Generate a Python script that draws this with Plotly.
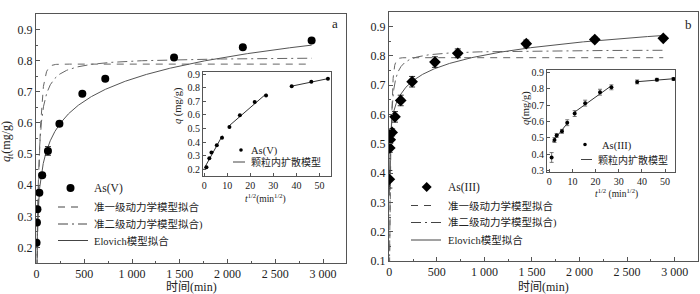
import numpy as np
import plotly.graph_objects as go

# ---------------- data ----------------
time_min = [1, 5, 10, 30, 60, 120, 240, 480, 720, 1440, 2160, 2880]
q_as5 = [0.215, 0.28, 0.323, 0.376, 0.432, 0.51, 0.597, 0.694, 0.742, 0.81, 0.843, 0.865]
err_as5 = [0.004, 0.004, 0.004, 0.004, 0.006, 0.014, 0.006, 0.006, 0.006, 0.006, 0.006, 0.006]
q_as3 = [0.379, 0.486, 0.514, 0.539, 0.592, 0.648, 0.712, 0.779, 0.809, 0.842, 0.856, 0.86]
err_as3 = [0.03, 0.015, 0.012, 0.012, 0.018, 0.018, 0.018, 0.018, 0.015, 0.012, 0.008, 0.008]

# model parameters
pfo_v = dict(qe=0.789, k=0.033)
pso_v = dict(qe=0.813, k=0.068)
elo_v = dict(a=0.0327, b=0.1026)
pfo_iii = dict(qe=0.794, k=0.06)
pso_iii = dict(qe=0.822, k=0.13)
elo_iii = dict(a=0.368, b=0.063)

# intraparticle diffusion segments (point index groups and drawn sqrt(t) span)
seg_idx_v = [[0, 1, 2, 3, 4], [5, 6, 7, 8], [9, 10, 11]]
seg_span_v = [(0.0, 7.9), (10.9, 26.9), (37.9, 53.7)]
seg_idx_iii = [[1, 2, 3, 4], [5, 6, 7, 8], [9, 10, 11]]
seg_span_iii = [(1.4, 7.9), (10.9, 26.9), (37.9, 53.7)]

x_ticks = [0, 500, 1000, 1500, 2000, 2500, 3000]
x_ticktext = ["0", "500", "1 000", "1 500", "2 000", "2 500", "3 000"]

W, H = 700, 294
SERIF = "Liberation Serif, Times New Roman, Noto Sans CJK SC, serif"
LEG = "Liberation Serif, Noto Sans CJK SC, serif"
TXT = "#222222"
LINE = "#555555"
DASH1 = "7px,6px"
DASH2 = "10px,4px,2px,4px"


def px_x(a, b):
    return [a / W, b / W]


def px_y(top, bottom):
    return [1 - bottom / H, 1 - top / H]


def X(p):
    return p / W


def Y(p):
    return 1 - p / H


t_fit = np.unique(np.concatenate([np.linspace(0, 200, 801), np.linspace(200, 2880, 400)]))
t_elo = t_fit[t_fit > 0.3]


def pfo(p, t):
    return p["qe"] * (1 - np.exp(-p["k"] * t))


def pso(p, t):
    return p["qe"] ** 2 * p["k"] * t / (1 + p["qe"] * p["k"] * t)


def elovich(p, t):
    return p["a"] + p["b"] * np.log(t)


fig = go.Figure()


def main_panel(xa, ya, q, err, sym, msize, pf, ps, el):
    fig.add_trace(go.Scatter(x=t_fit, y=pfo(pf, t_fit), mode="lines",
                             line=dict(color="#666", width=1, dash=DASH1), xaxis=xa, yaxis=ya))
    fig.add_trace(go.Scatter(x=t_fit, y=pso(ps, t_fit), mode="lines",
                             line=dict(color="#666", width=1, dash=DASH2), xaxis=xa, yaxis=ya))
    fig.add_trace(go.Scatter(x=t_elo, y=elovich(el, t_elo), mode="lines",
                             line=dict(color=LINE, width=1), xaxis=xa, yaxis=ya))
    fig.add_trace(go.Scatter(x=time_min, y=q, mode="markers",
                             marker=dict(symbol=sym, color="black", size=msize),
                             error_y=dict(type="data", array=err, color="#333", thickness=1, width=3),
                             xaxis=xa, yaxis=ya))


def inset_panel(xa, ya, q, err, idx_groups, spans, show_err):
    sq = np.sqrt(np.array(time_min, dtype=float))
    qa = np.array(q)
    for idx, (s0, s1) in zip(idx_groups, spans):
        m, c = np.polyfit(sq[idx], qa[idx], 1)
        xs = np.array([s0, s1])
        fig.add_trace(go.Scatter(x=xs, y=m * xs + c, mode="lines",
                                 line=dict(color="#333", width=1), xaxis=xa, yaxis=ya))
    fig.add_trace(go.Scatter(x=sq, y=qa, mode="markers",
                             marker=dict(symbol="circle", color="black", size=4),
                             error_y=dict(type="data", array=err, color="#555", thickness=0.8, width=2,
                                          visible=show_err),
                             xaxis=xa, yaxis=ya))


main_panel("x", "y", q_as5, err_as5, "circle", 8, pfo_v, pso_v, elo_v)
main_panel("x2", "y2", q_as3, err_as3, "diamond", 9, pfo_iii, pso_iii, elo_iii)
inset_panel("x3", "y3", q_as5, err_as5, seg_idx_v, seg_span_v, False)
inset_panel("x4", "y4", q_as3, err_as3, seg_idx_iii, seg_span_iii, True)

axis_common = dict(showline=True, linecolor="#555", linewidth=1, mirror=True, showgrid=False,
                   zeroline=False, ticks="inside", ticklen=4, tickcolor="#555", automargin=False,
                   tickfont=dict(family=SERIF, size=12, color=TXT))
inset_common = {**axis_common, "tickfont": dict(family=SERIF, size=10, color=TXT), "ticklen": 3}
minor = dict(ticks="inside", ticklen=2, tickcolor="#555")

# ---------- legends (drawn manually to match the compact original layout) ----------
shapes = []
annotations = []


def leg_line(x0, x1, y, dash):
    shapes.append(dict(type="line", xref="paper", yref="paper", x0=X(x0), x1=X(x1), y0=Y(y), y1=Y(y),
                       line=dict(color="#444", width=1, dash=dash)))


def leg_text(x, y, text, size=10.5):
    annotations.append(dict(text=text, x=X(x), y=Y(y), xref="paper", yref="paper", showarrow=False,
                            xanchor="left", yanchor="middle", font=dict(family=LEG, size=size, color=TXT)))


def leg_circle(cx, cy, r):
    shapes.append(dict(type="circle", xref="paper", yref="paper", x0=X(cx - r), x1=X(cx + r),
                       y0=Y(cy + r), y1=Y(cy - r), fillcolor="black", line=dict(color="black", width=0)))


def leg_diamond(cx, cy, r):
    path = "M {},{} L {},{} L {},{} L {},{} Z".format(X(cx), Y(cy - r), X(cx + r), Y(cy), X(cx), Y(cy + r),
                                                         X(cx - r), Y(cy))
    shapes.append(dict(type="path", xref="paper", yref="paper", path=path, fillcolor="black",
                       line=dict(color="black", width=0)))


# left main
leg_circle(70.5, 188, 4)
leg_text(92, 188, "As(V)", 11.5)
leg_line(58, 80, 207, DASH1)
leg_text(92, 207, "准一级动力学模型拟合")
leg_line(58, 87, 224, DASH2)
leg_text(92, 224, "准二级动力学模型拟合)")
leg_line(58, 88, 240.5, None)
leg_text(92, 240.5, "Elovich模型拟合", 10.5)
# right main
leg_diamond(426.7, 187, 5)
leg_text(446, 187, "As(III)", 11.5)
leg_line(411, 437, 205.5, DASH1)
leg_text(446, 205.5, "准一级动力学模型拟合")
leg_line(411, 441, 222.5, DASH2)
leg_text(446, 222.5, "准二级动力学模型拟合)")
leg_line(411, 441, 240, None)
leg_text(446, 240, "Elovich模型拟合", 10.5)
# left inset
leg_circle(241, 150, 1.8)
leg_text(249, 150.5, "As(V)", 10.5)
leg_line(233, 245, 162, None)
leg_text(249, 162, "颗粒内扩散模型", 10)
# right inset
leg_circle(585, 144.5, 1.8)
leg_text(600, 146.5, "As(III)", 10.5)
leg_line(581, 592, 159.5, None)
leg_text(596, 159.5, "颗粒内扩散模型", 10)


# ---------- axis titles and panel letters ----------
def title_ann(x, y, text, size, angle=0):
    annotations.append(dict(text=text, x=X(x), y=Y(y), xref="paper", yref="paper", showarrow=False,
                            xanchor="center", yanchor="middle", textangle=angle,
                            font=dict(family=SERIF, size=size, color=TXT)))


title_ann(191, 287, "时间(min)", 12)
title_ann(543, 287, "时间(min)", 12)
title_ann(7, 142, "<i>q</i><sub>t</sub>(mg/g)", 12, -90)
title_ann(178, 106, "<i>q</i> (mg/g)", 10.5, -90)
title_ann(526, 108, "<i>q</i>(mg/g)", 10.5, -90)
title_ann(265, 198, "<i>t</i><sup>1/2</sup>(min<sup>1/2</sup>)", 9.5)
title_ann(616, 193, "<i>t</i><sup>1/2</sup> (min<sup>1/2</sup>)", 9.5)
title_ann(335, 24, "a", 13)
title_ann(688, 25, "b", 13)

fig.update_layout(
    width=W, height=H, margin=dict(l=0, r=0, t=0, b=0),
    paper_bgcolor="white", plot_bgcolor="white", showlegend=False,
    xaxis=dict(domain=px_x(36, 346), range=[-5, 3240], anchor="y", tickvals=x_ticks, ticktext=x_ticktext,
               minor=dict(dtick=250, **minor), **axis_common),
    yaxis=dict(domain=px_y(14, 263), range=[0.15, 0.95], anchor="x", dtick=0.1, tickformat=".1f",
               minor=dict(dtick=0.05, **minor), **axis_common),
    xaxis2=dict(domain=px_x(389, 698), range=[-3, 3245], anchor="y2", tickvals=x_ticks, ticktext=x_ticktext,
                minor=dict(dtick=250, **minor), **axis_common),
    yaxis2=dict(domain=px_y(12, 261), range=[0.1, 0.95], anchor="x2", dtick=0.1, tickformat=".1f",
                minor=dict(dtick=0.05, **minor), **axis_common),
    xaxis3=dict(domain=px_x(203, 331), range=[-0.5, 55], anchor="y3", dtick=10, **inset_common),
    yaxis3=dict(domain=px_y(72, 176), range=[0.15, 0.915], anchor="x3", dtick=0.1, tickformat=".1f",
                **inset_common),
    xaxis4=dict(domain=px_x(547, 675), range=[-1, 54.3], anchor="y4", dtick=10, **inset_common),
    yaxis4=dict(domain=px_y(70, 172), range=[0.29, 0.915], anchor="x4", dtick=0.1, tickformat=".1f",
                **inset_common),
    shapes=shapes,
    annotations=annotations,
)

fig.write_html("out.html", config={"displayModeBar": False},
               post_script="document.body.style.margin='0px';document.body.style.overflow='hidden';")
